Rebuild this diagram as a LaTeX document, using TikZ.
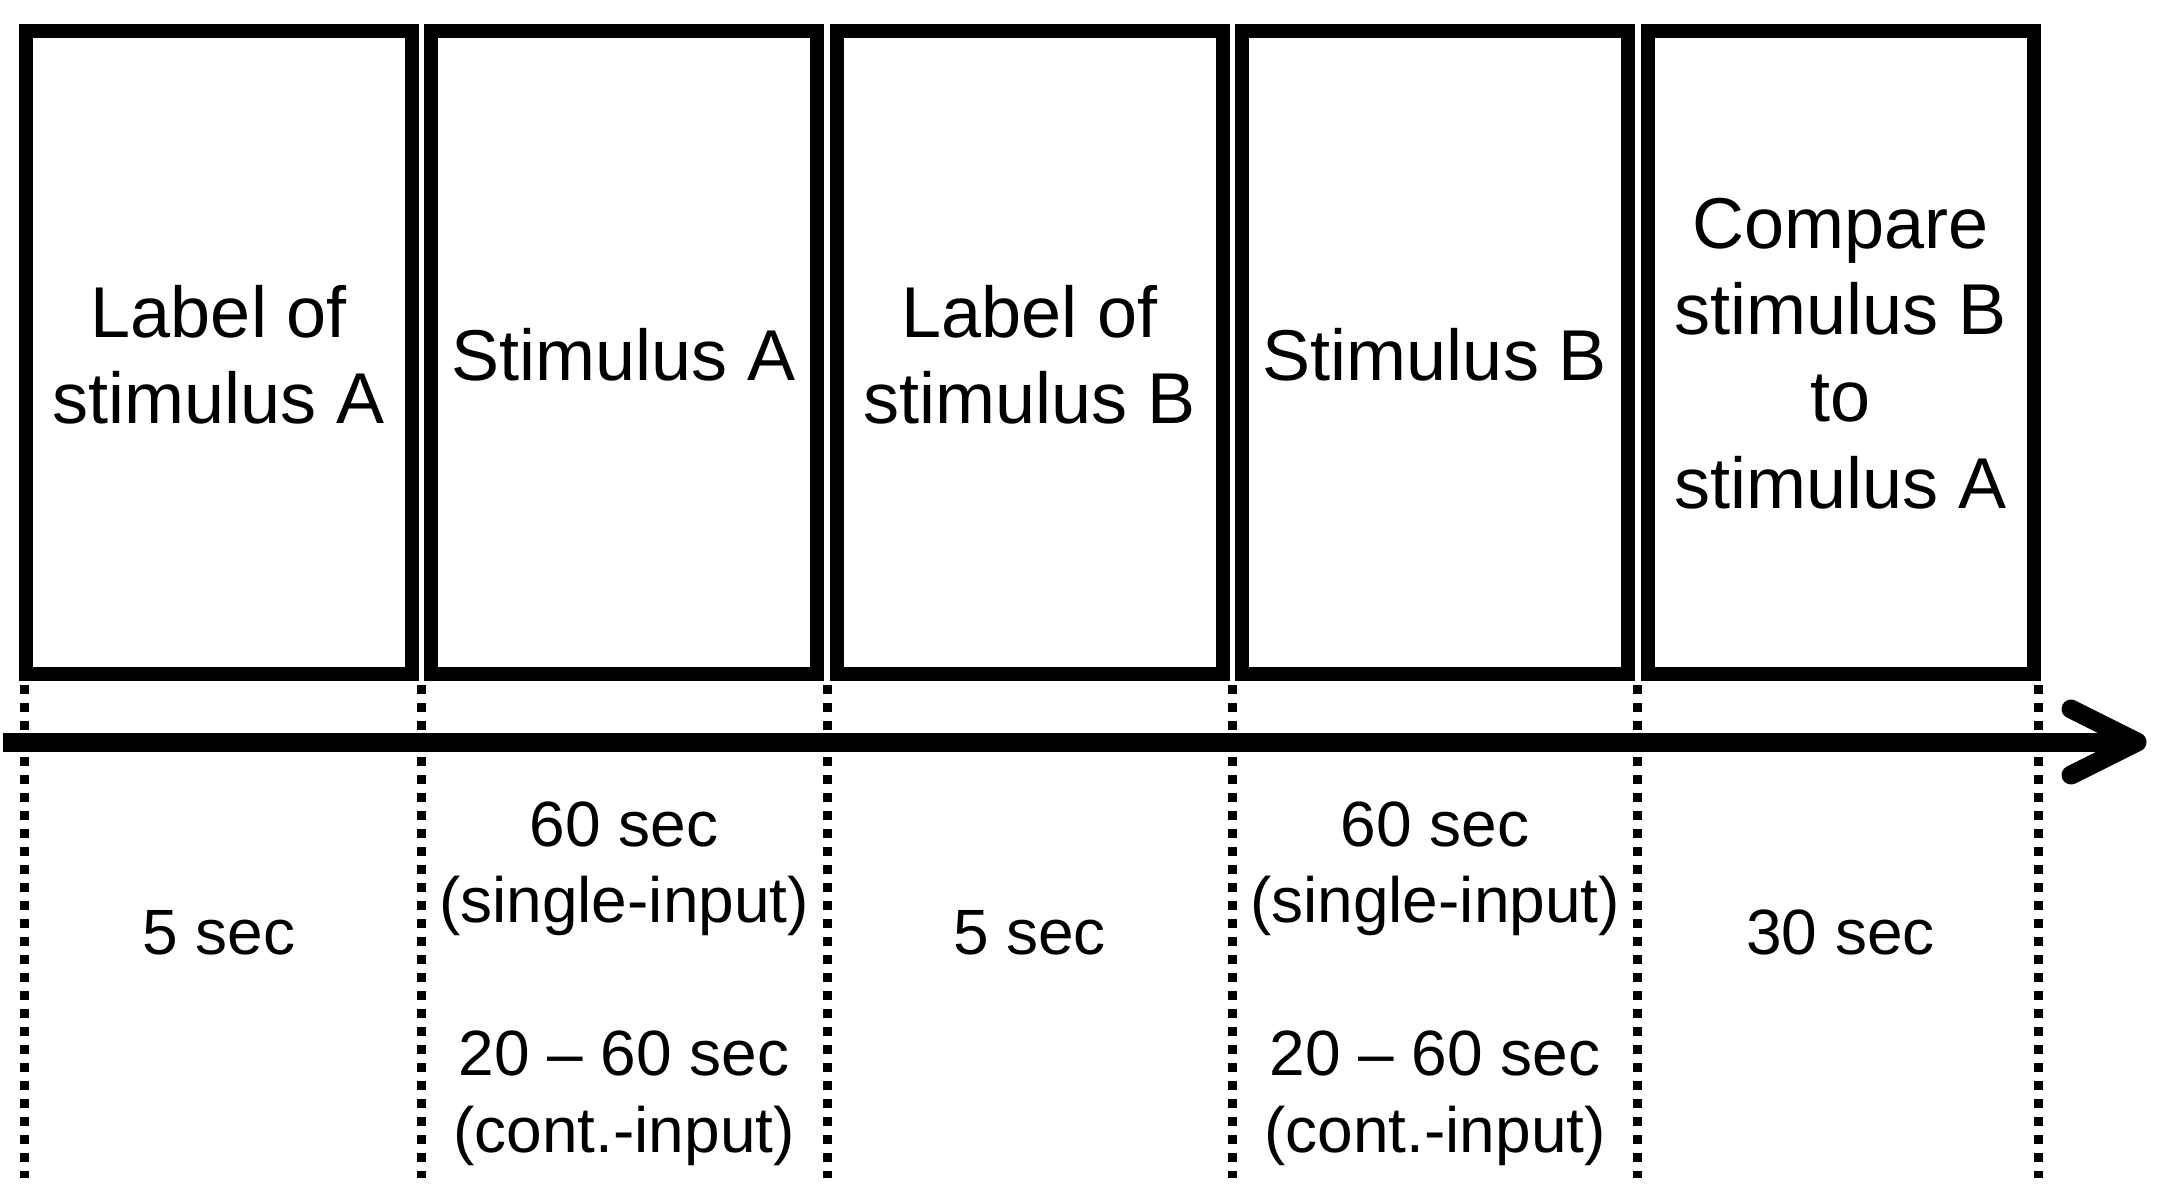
\documentclass[tikz,border=0pt]{standalone}
\usepackage{fontspec}
\setmainfont{Liberation Sans}
\begin{document}
\begin{tikzpicture}[x=1pt,y=-1pt,
  stage/.style={draw=black, line width=14pt, minimum width=386pt, minimum height=643pt, inner sep=0pt},
  big/.style={font=\fontsize{72}{86}\selectfont, anchor=base, inner sep=0pt},
  small/.style={font=\fontsize{64}{77}\selectfont, anchor=base, inner sep=0pt},
  tick/.style={line width=9pt, dash pattern=on 9pt off 9pt},
  axis/.style={line width=19pt}]
\useasboundingbox (0,0) rectangle (2161,1200);

% stage boxes
\node[stage] (b1) at (219,352.5) {};
\node[stage] (b2) at (624,352.5) {};
\node[stage] (b3) at (1029.5,352.5) {};
\node[stage] (b4) at (1435,352.5) {};
\node[stage] (b5) at (1840.5,352.5) {};

% box labels
\node[big] (l1a) at (219,337) {Label of};
\node[big] (l1b) at (219,423) {stimulus A};
\node[big] (l2) at (624,380) {Stimulus A};
\node[big] (l3a) at (1029.5,337) {Label of};
\node[big] (l3b) at (1029.5,423) {stimulus B};
\node[big] (l4) at (1435,380) {Stimulus B};
\node[big] (l5a) at (1840.5,248) {Compare};
\node[big] (l5b) at (1840.5,334) {stimulus B};
\node[big] (l5c) at (1840.5,421) {to};
\node[big] (l5d) at (1840.5,508) {stimulus A};

% dotted separators
\foreach \i/\x in {0/24.5,1/421.5,2/827,3/1232.5,4/1637.5,5/2038}{
  \coordinate (t\i) at (\x,685);
  \coordinate (u\i) at (\x,1178);
  \draw[tick] (t\i) -- (u\i);
}

% time axis
\coordinate (as) at (3,742);
\coordinate (ae) at (2137,742);
\coordinate (w1) at (2071,709);
\coordinate (w2) at (2071,775);
\draw[axis] (as) -- (ae);
\draw[axis, line cap=round, line join=round] (w1) -- (ae) -- (w2);

% durations
\node[small] (d1) at (219,954) {5 sec};
\node[small] (d2a) at (624,846) {60 sec};
\node[small] (d2b) at (624,922) {(single-input)};
\node[small] (d2c) at (624,1075) {20 – 60 sec};
\node[small] (d2d) at (624,1152) {(cont.-input)};
\node[small] (d3) at (1029.5,954) {5 sec};
\node[small] (d4a) at (1435,846) {60 sec};
\node[small] (d4b) at (1435,922) {(single-input)};
\node[small] (d4c) at (1435,1075) {20 – 60 sec};
\node[small] (d4d) at (1435,1152) {(cont.-input)};
\node[small] (d5) at (1840.5,954) {30 sec};
\end{tikzpicture}
\end{document}
